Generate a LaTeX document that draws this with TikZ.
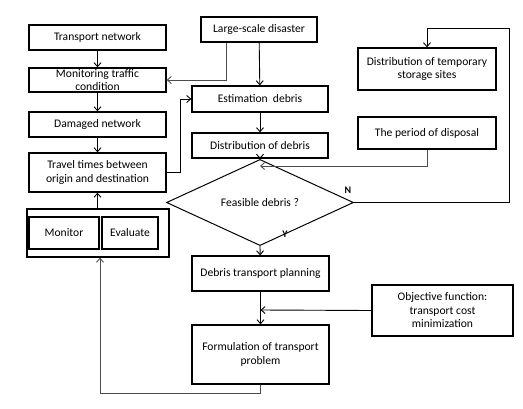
\documentclass[tikz,border=0pt]{standalone}
\usepackage{fontspec}
\setmainfont{Carlito}
\usepackage{tikz}
\usetikzlibrary{arrows.meta,shapes.geometric}

\begin{document}
\begin{tikzpicture}[x=1pt,y=-1pt]
		\useasboundingbox (0,0) rectangle (523,408);
		\begin{scope}[every node/.style={rectangle,draw,line width=1.3pt,inner sep=1pt,
		                                 align=center,font=\fontsize{11.6}{13.5}\selectfont}]
		    \node[minimum width=137pt,minimum height=25pt] (1) at (97.5,37.5) {Transport network};
		    \node[minimum width=137pt,minimum height=24pt,inner sep=0pt] (2) at (97.5,80) {Monitoring traffic\\condition};
		    \node[minimum width=137pt,minimum height=25pt] (3) at (97.5,124.5) {Damaged network};
		    \node[minimum width=137pt,minimum height=39pt] (4) at (97.5,172.5) {Travel times between\\origin and destination};
		    \node[minimum width=142pt,minimum height=48pt] (5) at (98,233) {};
		    \node[minimum width=70pt,minimum height=32pt] (5a) at (64,233) {Monitor};
		    \node[minimum width=56pt,minimum height=32pt] (5b) at (130,233) {Evaluate};
		    \node[minimum width=116pt,minimum height=25pt] (6) at (259,29.5) {Large-scale disaster};
		    \node[minimum width=136pt,minimum height=26pt] (7) at (260,99) {Estimation\ \ debris};
		    \node[minimum width=136pt,minimum height=25pt] (8) at (260,145.5) {Distribution of debris};
		    \node[minimum width=138pt,minimum height=42pt] (9) at (427,69) {Distribution of temporary\\storage sites};
		    \node[minimum width=138pt,minimum height=32pt] (10) at (427,133) {The period of disposal};
		    \node[diamond,line width=1pt,inner sep=0pt,minimum width=187pt,minimum height=59pt] (11) at (260,202.5) {Feasible debris ?};
		    \node[minimum width=137pt,minimum height=35pt] (12) at (260.5,273.5) {Debris transport planning};
		    \node[minimum width=141pt,minimum height=51pt,inner sep=0pt] (13) at (442.5,310.5) {Objective function:\\transport cost\\minimization};
		    \node[minimum width=137pt,minimum height=59pt] (14) at (260.5,354.5) {Formulation of transport\\problem};
		\end{scope}

		\coordinate (a) at (260,166);
		\coordinate (b) at (260.5,310);

		\begin{scope}[>={Straight Barb[length=4pt,width=7pt]},
		              every path/.style={line width=0.9pt},
		              every node/.style={font=\fontsize{10}{11}\selectfont\bfseries}]
		    \draw[->] (1) -- (2);
		    \draw[->] (2) -- (3);
		    \draw[->] (3) -- (4);
		    \draw[->] (5.north -| 4.south) -- (4.south);
		    \draw[->,gray!60!black] ([xshift=-33pt]6.south) |- (2.east);
		    \draw[->] (6) -- (7);
		    \draw[->] (4.east) -- ++(14,0) |- (7.west);
		    \draw[->] (7) -- (8);
		    \draw[->] (8) -- (11.north);
		    \draw[->,gray!60!black] (10.south) |- (a);
		    \draw[->] (11.east) -- ++(155,0) |- (9.north |- 0,28) -- (9.north);
		    \node at (348,190) {N};
		    \draw[->] (11.south) -- (12);
		    \node at (285,234) {Y};
		    \draw[->] (12) -- (14);
		    \draw[->] (13.west) -- (b);
		    \draw[->,gray!60!black] (14.south) -- ++(0,9) -| ([xshift=2pt]5.south);
		\end{scope}
\end{tikzpicture}
\end{document}
